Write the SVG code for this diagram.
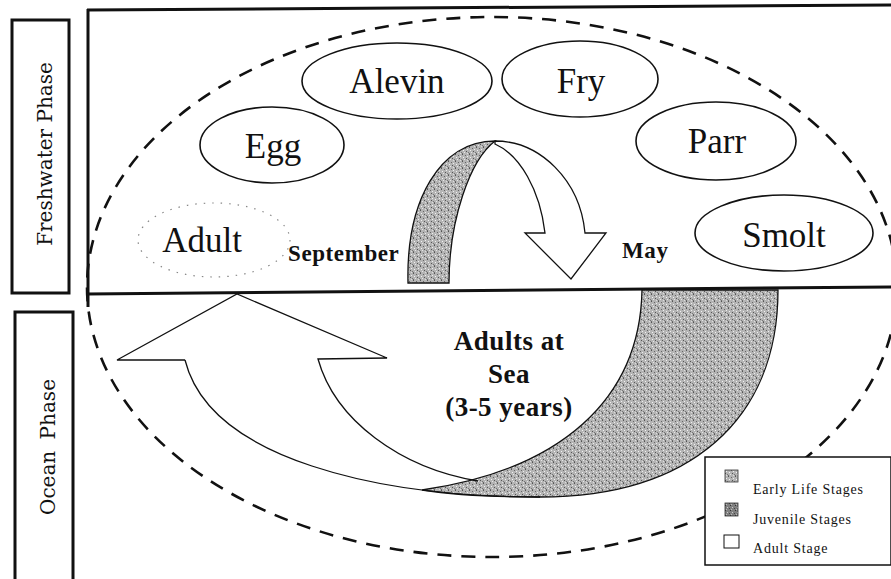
<svg xmlns="http://www.w3.org/2000/svg" width="891" height="579" viewBox="0 0 891 579">
  <style>
    .frame { fill: none; stroke: #111; stroke-width: 3; }
    .node { fill: #fff; stroke: #111; stroke-width: 1.6; }
    .ntext { font-family: "Liberation Serif", "Times New Roman", serif; font-size: 35px; fill: #111; text-anchor: middle; }
    .month { font-family: "Liberation Serif", "Times New Roman", serif; font-size: 23px; font-weight: bold; fill: #111; letter-spacing: 0.6px; }
    .sea { font-family: "Liberation Serif", "Times New Roman", serif; font-size: 27px; font-weight: bold; fill: #111; text-anchor: middle; letter-spacing: 0.5px; }
    .phase { font-family: "DejaVu Serif", serif; font-size: 20px; fill: #111; text-anchor: middle; }
    .arrow { fill: #fff; stroke: #111; stroke-width: 1.3; stroke-linejoin: miter; }
    .line { fill: none; stroke: #111; stroke-width: 1.3; stroke-linejoin: miter; }
    .shade { fill: url(#stip); stroke: #111; stroke-width: 1.3; }
    .leg { font-family: "Liberation Serif", "Times New Roman", serif; font-size: 14px; fill: #111; letter-spacing: 0.8px; }
  </style>
  <defs>
    <pattern id="stip" width="7" height="7" patternUnits="userSpaceOnUse">
      <rect width="7" height="7" fill="#b4b4b4"/>
      <rect x="0" y="0" width="1" height="1" fill="#555"/>
      <rect x="3" y="1" width="1" height="1" fill="#666"/>
      <rect x="5" y="2" width="1" height="1" fill="#eee"/>
      <rect x="1" y="3" width="1" height="1" fill="#f2f2f2"/>
      <rect x="4" y="4" width="1" height="1" fill="#555"/>
      <rect x="6" y="5" width="1" height="1" fill="#777"/>
      <rect x="2" y="5" width="1" height="1" fill="#e6e6e6"/>
      <rect x="0" y="6" width="1" height="1" fill="#6a6a6a"/>
      <rect x="5" y="6" width="1" height="1" fill="#ddd"/>
    </pattern>
    <pattern id="stipdark" width="5" height="5" patternUnits="userSpaceOnUse">
      <rect width="5" height="5" fill="#808080"/>
      <rect x="0" y="0" width="1" height="1" fill="#333"/>
      <rect x="2" y="2" width="1" height="1" fill="#ccc"/>
      <rect x="4" y="3" width="1" height="1" fill="#444"/>
      <rect x="1" y="4" width="1" height="1" fill="#bbb"/>
    </pattern>
  </defs>

  <rect width="891" height="579" fill="#fff"/>

  <!-- phase labels -->
  <g id="label-freshwater">
    <rect class="frame" x="12" y="20" width="57" height="273"/>
    <text class="phase" transform="translate(52,154) rotate(-90)">Freshwater Phase</text>
  </g>
  <g id="label-ocean">
    <rect class="frame" x="15" y="312" width="58" height="275"/>
    <text class="phase" transform="translate(55,447) rotate(-90)" word-spacing="5">Ocean Phase</text>
  </g>

  <!-- main frame -->
  <g id="frame">
    <line class="frame" x1="87" y1="10" x2="891" y2="5"/>
    <line class="frame" x1="88" y1="9" x2="88" y2="307"/>
    <line class="frame" x1="87" y1="294" x2="891" y2="287"/>
  </g>

  <!-- connectors -->
  <g id="connectors">
    <ellipse cx="492" cy="287" rx="405" ry="270" fill="none" stroke="#111" stroke-width="2.6" stroke-dasharray="14 10"/>

    <!-- early life curved arrow (freshwater) -->
    <path class="shade" d="M 408,283 C 406,200 440,141 495,141 C 470,160 449,220 449,283 Z"/>
    <path class="arrow" d="M 495,141 C 540,141 580,180 585,233 L 606,233 L 571,279 L 525,233 L 545,233 C 540,190 520,155 495,144 Z"/>

    <!-- ocean curved arrow -->
    <path class="shade" d="M 642,290 C 640,400 560,470 422,490 C 460,496 500,497 540,497 C 690,497 778,420 778,290 Z"/>
    <path class="line" d="M 185,360 L 117,360 L 237,294 L 387,358 L 318,359 C 335,420 400,468 478,481"/>
    <path class="line" d="M 185,360 C 210,460 380,497 540,497"/>
  </g>

  <!-- nodes -->
  <g id="node-egg">
    <ellipse class="node" cx="272" cy="145" rx="72" ry="38"/>
    <text class="ntext" x="273" y="158">Egg</text>
  </g>
  <g id="node-alevin">
    <ellipse class="node" cx="397" cy="81" rx="95" ry="38"/>
    <text class="ntext" x="397" y="93">Alevin</text>
  </g>
  <g id="node-fry">
    <ellipse class="node" cx="580" cy="79" rx="78" ry="38"/>
    <text class="ntext" x="581" y="93">Fry</text>
  </g>
  <g id="node-parr">
    <ellipse class="node" cx="716" cy="141" rx="80" ry="39"/>
    <text class="ntext" x="717" y="153">Parr</text>
  </g>
  <g id="node-smolt">
    <ellipse class="node" cx="784" cy="233" rx="89" ry="38"/>
    <text class="ntext" x="784" y="247">Smolt</text>
  </g>
  <g id="node-adult">
    <ellipse cx="214" cy="240" rx="76" ry="37" fill="none" stroke="#888" stroke-width="1.2" stroke-dasharray="1.5 7"/>
    <text class="ntext" x="202" y="252">Adult</text>
  </g>

  <!-- labels -->
  <g id="labels">
    <text class="month" x="288" y="261">September</text>
    <text class="month" x="622" y="258">May</text>
    <text class="sea" x="509" y="350">Adults at</text>
    <text class="sea" x="509" y="383">Sea</text>
    <text class="sea" x="509" y="416">(3-5 years)</text>
  </g>

  <!-- legend -->
  <g id="legend">
    <rect x="705" y="457" width="186" height="108" fill="#fff" stroke="#111" stroke-width="1.5"/>
    <rect x="725" y="470" width="13" height="12" fill="url(#stip)" stroke="#333" stroke-width="0.8"/>
    <rect x="725" y="503" width="13" height="13" fill="url(#stipdark)" stroke="#333" stroke-width="0.8"/>
    <rect x="724" y="535" width="15" height="13" fill="#fff" stroke="#111" stroke-width="1"/>
    <text class="leg" x="753" y="494">Early Life Stages</text>
    <text class="leg" x="753" y="524">Juvenile Stages</text>
    <text class="leg" x="753" y="553">Adult Stage</text>
  </g>
</svg>
